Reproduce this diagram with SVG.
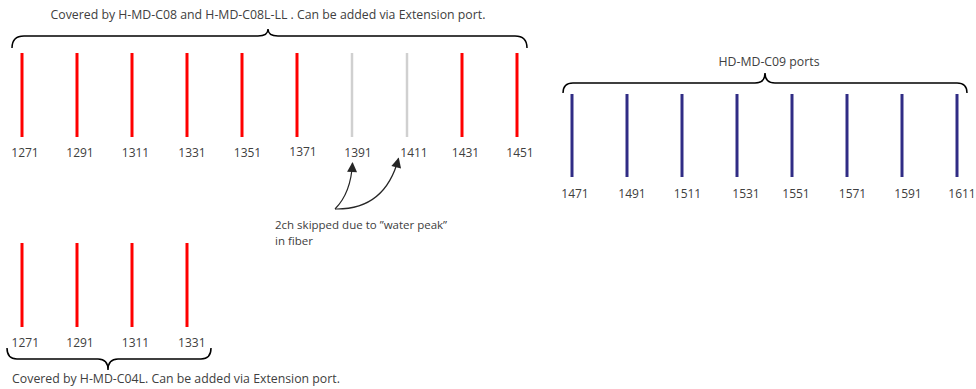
<svg xmlns="http://www.w3.org/2000/svg" width="976" height="389" viewBox="0 0 976 389">
<defs>
<style>
text{font-family:"Open Sans","Liberation Sans",Arial,sans-serif;font-size:12px;fill:#404040}
.lbl{text-anchor:middle}
.cap{font-size:12.3px}
.note{font-size:11.5px}
.red{stroke:#FF0000;stroke-width:3}
.gray{stroke:#D0D0D0;stroke-width:2.5}
.blue{stroke:#302C85;stroke-width:3}
.brace{fill:none;stroke:#000;stroke-width:1.5}
.conn{fill:none;stroke:#262626;stroke-width:1.2}
</style>
<marker id="ah" viewBox="0 0 10 10" refX="9" refY="5" markerWidth="13" markerHeight="10" markerUnits="userSpaceOnUse" orient="auto">
<path d="M0,0 L10,5 L0,10 z" fill="#262626"/>
</marker>
</defs>
<rect width="976" height="389" fill="#fff"/>

<g id="top-group">
<path class="brace" d="M12,48 Q12,36 24,36 L258,36 Q268,36 268,29 Q268,36 278,36 L515,36 Q527,36 527,48"/>
<text class="lbl cap" x="268" y="19">Covered by H-MD-C08 and H-MD-C08L-LL . Can be added via Extension port.</text>
<g id="t1271"><line class="red" x1="22" y1="53" x2="22" y2="137"/><text class="lbl" x="25" y="157">1271</text></g>
<g id="t1291"><line class="red" x1="77" y1="53" x2="77" y2="137"/><text class="lbl" x="80" y="157">1291</text></g>
<g id="t1311"><line class="red" x1="132" y1="53" x2="132" y2="137"/><text class="lbl" x="135.5" y="157">1311</text></g>
<g id="t1331"><line class="red" x1="187" y1="53" x2="187" y2="137"/><text class="lbl" x="192" y="157">1331</text></g>
<g id="t1351"><line class="red" x1="242" y1="53" x2="242" y2="137"/><text class="lbl" x="247.5" y="157">1351</text></g>
<g id="t1371"><line class="red" x1="297" y1="53" x2="297" y2="137"/><text class="lbl" x="303" y="155.5">1371</text></g>
<g id="t1391"><line class="gray" x1="352" y1="53" x2="352" y2="137"/><text class="lbl" x="358" y="157">1391</text></g>
<g id="t1411"><line class="gray" x1="407" y1="53" x2="407" y2="137"/><text class="lbl" x="414" y="157">1411</text></g>
<g id="t1431"><line class="red" x1="462" y1="53" x2="462" y2="137"/><text class="lbl" x="465.5" y="157">1431</text></g>
<g id="t1451"><line class="red" x1="517" y1="53" x2="517" y2="137"/><text class="lbl" x="520" y="157">1451</text></g>
</g>

<g id="right-group">
<path class="brace" d="M563,93 Q563,83 573,83 L755,83 Q765,83 765,73 Q765,83 775,83 L957,83 Q967,83 967,93"/>
<text class="lbl cap" x="769" y="66">HD-MD-C09 ports</text>
<g id="b1471"><line class="blue" x1="572" y1="94" x2="572" y2="177"/><text class="lbl" x="575" y="197.5">1471</text></g>
<g id="b1491"><line class="blue" x1="627" y1="94" x2="627" y2="177"/><text class="lbl" x="632" y="197.5">1491</text></g>
<g id="b1511"><line class="blue" x1="682" y1="94" x2="682" y2="177"/><text class="lbl" x="687.5" y="197.5">1511</text></g>
<g id="b1531"><line class="blue" x1="737" y1="94" x2="737" y2="177"/><text class="lbl" x="746" y="197.5">1531</text></g>
<g id="b1551"><line class="blue" x1="792" y1="94" x2="792" y2="177"/><text class="lbl" x="796" y="197.5">1551</text></g>
<g id="b1571"><line class="blue" x1="847" y1="94" x2="847" y2="177"/><text class="lbl" x="852.5" y="197.5">1571</text></g>
<g id="b1591"><line class="blue" x1="902" y1="94" x2="902" y2="177"/><text class="lbl" x="908" y="197.5">1591</text></g>
<g id="b1611"><line class="blue" x1="957" y1="94" x2="957" y2="177"/><text class="lbl" x="962" y="197.5">1611</text></g>
</g>

<g id="bottom-group">
<path class="brace" d="M7,348 Q7,359 17,359 L98,359 Q108,359 108,370 Q108,359 118,359 L201,359 Q211,359 211,348"/>
<text class="lbl cap" x="176" y="383">Covered by H-MD-C04L. Can be added via Extension port.</text>
<g id="c1271"><line class="red" x1="22" y1="243" x2="22" y2="327"/><text class="lbl" x="25.3" y="346.5">1271</text></g>
<g id="c1291"><line class="red" x1="77" y1="243" x2="77" y2="327"/><text class="lbl" x="80" y="346.5">1291</text></g>
<g id="c1311"><line class="red" x1="132" y1="243" x2="132" y2="327"/><text class="lbl" x="135.5" y="346.5">1311</text></g>
<g id="c1331"><line class="red" x1="187" y1="243" x2="187" y2="327"/><text class="lbl" x="191.8" y="346.5">1331</text></g>
</g>

<g id="note">
<text class="note" x="275" y="229">2ch skipped due to ”water peak”</text>
<text class="note" x="275" y="245">in fiber</text>
</g>

<g id="connectors">
<path class="conn" marker-end="url(#ah)" d="M335,209 Q351,193 352.5,163"/>
<path class="conn" marker-end="url(#ah)" d="M335,209 Q385,210 398.5,158.5"/>
</g>
</svg>
